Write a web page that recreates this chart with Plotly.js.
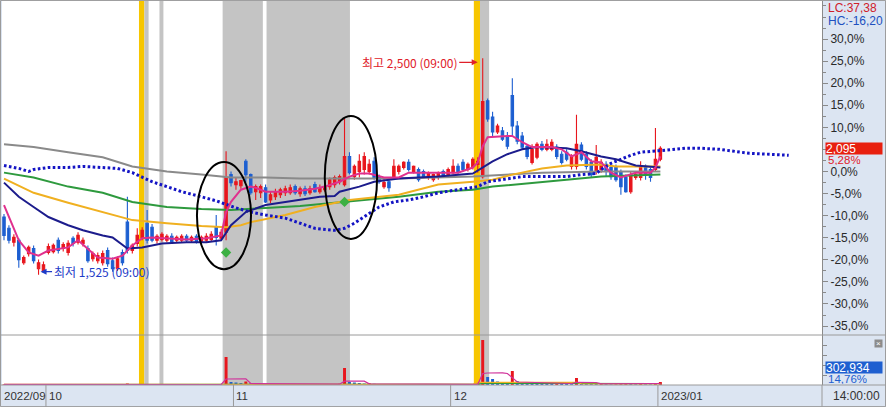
<!DOCTYPE html>
<html><head><meta charset="utf-8">
<script src="https://cdn.plot.ly/plotly-3.0.1.min.js"></script>
<style>html,body{margin:0;padding:0;background:#fff}#chart{width:886px;height:407px}</style>
</head><body><div id="chart"></div>
<script>
// ---------- data ----------
const basePrice = 1990;
const opens = [1785,1734,1671,1680,1579,1620,1643,1552,1543,1625,
1629,1680,1643,1625,1689,1671,1666,1643,1597,1588,
1579,1634,1588,1552,1625,1762,1634,1666,1693,1757,
1739,1680,1684,1680,1698,1680,1680,1698,1680,1698,
1675,1680,1684,1739,1689,1716,1976,1931,1926,2036,
1976,1899,1894,1917,1862,1876,1885,1894,1894,1922,
1890,1912,1894,1931,1899,1908,1922,1931,1944,1931,
2058,1967,1990,1999,1990,2036,1967,1922,1944,1967,
1990,2008,2031,1990,1999,1990,1963,1953,1963,1990,
1976,1985,2013,2031,1999,2013,2022,1967,2309,2236,
2168,2173,2145,2332,2195,2150,2104,2031,2054,2113,
2090,2090,2100,2068,2077,2013,2013,2109,2068,2031,
1990,1999,2022,2008,2008,1990,1963,1899,1963,1963,
2013,1999,1999,2045];
const highs = [1798,1748,1707,1689,1611,1657,1657,1593,1584,1666,
1666,1693,1671,1680,1698,1716,1693,1657,1629,1625,
1634,1648,1602,1607,1639,1876,1666,1734,1739,1817,
1753,1707,1716,1707,1712,1702,1707,1707,1702,1707,
1702,1712,1721,1794,1730,2081,1990,1963,1953,2045,
1981,1931,1931,1931,1899,1912,1917,1926,1931,1931,
1922,1926,1926,1944,1931,1935,1963,1972,1976,2227,
2077,2022,2068,2077,2045,2054,1976,1963,1953,2045,
2022,2036,2045,2017,2008,1999,1990,1981,1990,1999,
2008,2045,2026,2045,2031,2054,2054,2500,2319,2259,
2205,2191,2168,2410,2218,2168,2113,2113,2122,2127,
2136,2136,2113,2081,2090,2068,2246,2122,2081,2045,
2109,2045,2036,2022,2022,1999,1976,1990,1990,2036,
2022,2008,2186,2104];
const lows = [1680,1666,1652,1556,1570,1607,1575,1525,1534,1616,
1620,1620,1629,1611,1652,1661,1652,1579,1584,1575,
1566,1561,1538,1543,1566,1620,1620,1652,1680,1666,
1671,1666,1675,1671,1666,1671,1671,1671,1671,1666,
1666,1671,1675,1657,1680,1680,1922,1908,1912,1940,
1885,1862,1871,1848,1848,1862,1871,1880,1885,1885,
1876,1880,1885,1894,1890,1899,1908,1917,1931,1922,
1976,1953,1963,1976,1976,1953,1935,1912,1899,1953,
1976,1999,1990,1981,1944,1963,1953,1944,1953,1963,
1967,1976,1976,1990,1990,1999,1985,1958,2214,2150,
2159,2127,2090,2150,2113,2090,2045,2022,2045,2081,
2081,2081,2045,2022,2036,1999,1999,2036,1999,1963,
1976,1985,1967,1953,1944,1885,1894,1890,1953,1949,
1953,1944,1990,2036];
const closes = [1702,1680,1693,1593,1602,1648,1588,1579,1570,1652,
1657,1634,1661,1666,1666,1702,1680,1588,1620,1611,
1620,1575,1552,1597,1579,1634,1657,1702,1725,1680,
1680,1698,1707,1698,1675,1693,1698,1680,1693,1675,
1693,1698,1707,1693,1716,1963,1940,1944,1949,1976,
1894,1922,1922,1853,1885,1899,1908,1912,1917,1894,
1912,1890,1912,1899,1917,1922,1953,1963,1967,2058,
1985,2013,2036,2058,2022,1963,1944,1940,1917,2013,
2013,2031,1999,2013,1953,1967,1981,1976,1985,1967,
1999,2013,1990,1999,2022,2045,2036,2305,2227,2168,
2195,2136,2104,2195,2127,2100,2058,2090,2113,2090,
2113,2122,2058,2031,2045,2058,2113,2045,2013,1976,
2054,2031,1990,1967,1953,1922,1899,1976,1976,2008,
1976,1963,2045,2095];
const volume = [60000,40000,50000,70000,40000,50000,60000,90000,80000,
50000,40000,45000,35000,50000,30000,45000,40000,60000,35000,40000,45000,55000,60000,50000,45000,
150000,
60000,50000,40000,70000,45000,30000,25000,30000,20000,25000,30000,20000,25000,20000,30000,25000,35000,90000,60000,
2800000,
300000,
250000,200000,350000,180000,150000,120000,100000,90000,80000,70000,60000,70000,60000,50000,60000,50000,70000,60000,80000,90000,100000,120000,
1700000,
300000,250000,200000,150000,180000,120000,100000,80000,70000,60000,70000,60000,50000,60000,50000,40000,50000,40000,50000,60000,70000,80000,60000,70000,80000,90000,100000,
4500000,
800000,600000,
350000,250000,200000,
1400000,
400000,300000,250000,200000,180000,150000,120000,100000,150000,120000,100000,80000,
700000,
250000,150000,120000,100000,150000,80000,60000,70000,90000,120000,100000,80000,120000,70000,60000,
200000,302934];

// moving averages (candle index -> price)
const ma5Idx = [0,1,3,5,7,9,13,15,17,19,22,24,26,28,30,33,37,41,44,45,46,48,50,51,53,57,60,63,65,68,70,72,74,77,80,82,85,88,92,95,96,97,98,102,103,105,107,111,113,115,117,119,121,123,125,128,131,132,133];
const ma5Val = [1839,1785,1680,1625,1611,1634,1648,1680,1643,1602,1597,1611,1657,1689,1693,1689,1684,1689,1702,1807,1853,1908,1922,1917,1899,1899,1903,1912,1922,1944,1967,1981,1981,1963,1963,1985,1985,1985,1985,2008,2031,2104,2145,2150,2150,2122,2100,2100,2090,2058,2077,2036,2031,1985,1963,1985,1985,2008,2058];
const ma20Idx = [0,3,6,9,13,16,20,22,25,28,32,37,41,44,46,49,53,57,60,64,67,68,72,75,80,88,95,97,99,102,105,108,114,117,121,124,128,133];
const ma20Val = [1940,1876,1830,1785,1748,1725,1702,1693,1643,1648,1666,1671,1671,1680,1748,1807,1839,1853,1862,1876,1880,1899,1922,1944,1958,1967,1981,2008,2036,2068,2090,2100,2095,2081,2058,2045,2017,2008];
const ma60Idx = [0,6,13,20,26,33,40,45,48,50,57,63,70,80,88,95,99,103,109,114,121,124,129,133];
const ma60Val = [1958,1894,1849,1807,1771,1757,1744,1739,1748,1762,1794,1830,1862,1885,1931,1944,1953,1976,2004,2017,2022,2013,2013,2013];
const ma120Idx = [0,6,13,20,26,33,40,46,53,60,67,74,80,88,95,99,109,114,121,133];
const ma120Val = [1985,1963,1922,1894,1853,1830,1821,1817,1826,1835,1849,1862,1876,1899,1908,1922,1944,1953,1967,1976];
const ma240Idx = [0,6,13,20,26,33,40,46,53,60,67,74,80,95,101,109,121,133];
const ma240Val = [2113,2100,2077,2054,2013,1990,1976,1963,1963,1958,1958,1958,1958,1967,1976,1985,1990,1990];
const spanIdx = [0,3,5,6,9,13,16,19,23,26,30,33,36,40,43,47,50,53,57,60,63,67,69,71,74,76,79,82,85,88,92,96,98,102,105,109,114,117,120,121,123,125,127,129,132,134,138,141,145,148,151,155,159];
const spanVal = [2017,2004,1990,1999,2008,2008,2013,2008,2004,1985,1944,1922,1899,1876,1858,1826,1807,1794,1780,1757,1734,1725,1734,1757,1803,1830,1853,1862,1876,1894,1908,1922,1944,1958,1967,1967,1967,1976,1981,1999,2027,2045,2063,2077,2081,2086,2095,2095,2090,2081,2072,2068,2063];
const signalIdx = [45,69];
const signalVal = [1625,1853];
const volMa5Idx = [0,44,45,49,50,68,69,73,74,96,97,98,101,102,104,115,116,120,121,133];
const volMa5Val = [60000,50000,600000,620000,150000,80000,380000,390000,120000,70000,1150000,1200000,1210000,1150000,300000,150000,260000,250000,120000,150000];
const volMa20Idx = [0,95,96,116,117,133];
const volMa20Val = [60000,60000,270000,270000,110000,100000];
const volMa60Idx = [0,96,97,133];
const volMa60Val = [50000,60000,160000,150000];

const pctTicks = [30,25,20,15,10,5,0,-5,-10,-15,-20,-25,-30,-35];
const hiddenPct = 5;   // covered by the current-price box in the original
const monthPos = [-0.2,8.5,46.5,90.5,132.5];
const monthText = ['2022/09','10','11','12','2023/01'];
const lastPrice = 2095, lastPct = '5,28%';
const lastVolume = 302934, lastVolPct = '14,76%';
const hiIdx = 97, hiVal = 2500, loIdx = 7, loVal = 1525;

// ---------- style ----------
const RED = '#e8161d', BLUE = '#1d5fd1';
const AX = 'Liberation Sans, Arial, sans-serif';
const KR = 'Noto Sans CJK KR, sans-serif';
const idx = closes.map((_, i) => i);
const volColors = volume.map((v, i) => (i === 0 || v >= volume[i - 1]) ? RED : BLUE);

const line = (xs, ys, color, width, yaxis, extra) => Object.assign({
  type: 'scatter', mode: 'lines', x: xs, y: ys, yaxis: yaxis || 'y',
  line: {color: color, width: width}, hoverinfo: 'skip'
}, extra || {});

const traces = [
  line(ma240Idx, ma240Val, '#8a8a8a', 2),
  line(ma120Idx, ma120Val, '#2e9a3e', 2),
  line(ma60Idx, ma60Val, '#f0b020', 2),
  line(spanIdx, spanVal, '#1616c8', 3, 'y', {line: {color: '#1414c4', width: 3, dash: '2.6px,2.4px'}}),
  line(ma20Idx, ma20Val, '#1c1c8c', 2),
  {type: 'candlestick', x: idx, open: opens, high: highs, low: lows, close: closes,
   increasing: {line: {color: RED, width: 1.1}, fillcolor: RED},
   decreasing: {line: {color: BLUE, width: 1.1}, fillcolor: BLUE},
   whiskerwidth: 0, hoverinfo: 'skip'},
  line(ma5Idx, ma5Val, '#e0308e', 2),
  {type: 'scatter', mode: 'markers', x: signalIdx, y: signalVal,
   marker: {symbol: 'diamond', size: 8, color: '#3cb043'}, hoverinfo: 'skip'},
  {type: 'bar', x: idx, y: volume, yaxis: 'y2', width: 0.6,
   marker: {color: volColors, line: {width: 0}}, hoverinfo: 'skip'},
  line(volMa60Idx, volMa60Val, '#2e9a3e', 1.2, 'y2'),
  line(volMa20Idx, volMa20Val, '#f0b020', 1.2, 'y2'),
  line(volMa5Idx, volMa5Val, '#d0309a', 1.2, 'y2')
];

// ---------- layout ----------
const MAIN_BOTTOM = 0.1302;
const BAND_H = 22 / 384;
const bands = [
  [27.35, 28.45, '#f7c600'], [28.45, 29.3, '#c4c4c4'], [31.5, 32.3, '#c4c4c4'],
  [44.3, 52.45, '#c4c4c4'], [53.2, 70.1, '#c4c4c4'],
  [95.2, 96.45, '#f7c600'], [96.45, 98.3, '#c4c4c4']
];
const shapes = bands.map(b => ({type: 'rect', xref: 'x', yref: 'paper', x0: b[0], x1: b[1], y0: 0, y1: 1,
  fillcolor: b[2], line: {width: 0}, layer: 'below'}));
shapes.push({type: 'circle', xref: 'x', yref: 'y', x0: 39.1, x1: 50.05, y0: 1550, y1: 2033, line: {color: '#000', width: 2}});
shapes.push({type: 'circle', xref: 'x', yref: 'y', x0: 65.0, x1: 75.6, y0: 1686, y1: 2240, line: {color: '#000', width: 2}});
shapes.push({type: 'line', xref: 'paper', yref: 'paper', x0: -0.003, x1: 1.08, y0: MAIN_BOTTOM, y1: MAIN_BOTTOM, line: {color: '#9a9a9a', width: 1}});
shapes.push({type: 'line', xref: 'paper', yref: 'paper', x0: -0.003, x1: 1.08, y0: 0, y1: 0, line: {color: '#9a9a9a', width: 1}});
shapes.push({type: 'line', xref: 'paper', yref: 'paper', x0: 1, x1: 1, y0: -BAND_H, y1: 0, line: {color: '#9a9a9a', width: 1}});
shapes.push({type: 'rect', xref: 'paper', yref: 'paper', x0: -0.0018, x1: 1.0775, y0: -BAND_H + 0.001, y1: 1.0015, line: {color: '#9a9a9a', width: 1}});
monthPos.slice(1).forEach(p => shapes.push({type: 'line', xref: 'x', yref: 'paper', x0: p, x1: p, y0: -BAND_H, y1: 0, line: {color: '#9a9a9a', width: 1}}));

const ann = [];
monthPos.forEach((p, k) => ann.push({xref: 'x', yref: 'paper', x: p, y: -BAND_H / 2, xanchor: 'left', yanchor: 'middle',
  xshift: k === 0 ? -1 : 1, text: monthText[k], showarrow: false, font: {family: AX, size: 11.5, color: '#333'}}));
ann.push({xref: 'x', yref: 'y', x: hiIdx, y: hiVal, ax: -73, ay: 0, yshift: -4, standoff: 5,
  text: '최고 2,500 (09:00)', showarrow: true, arrowhead: 2, arrowsize: 1, arrowwidth: 1.2, arrowcolor: '#e0202a',
  font: {family: KR, size: 12, color: '#e0202a'}});
ann.push({xref: 'x', yref: 'y', x: loIdx, y: loVal, ax: 63, ay: 0, yshift: 3, standoff: 2,
  text: '최저 1,525 (09:00)', showarrow: true, arrowhead: 2, arrowsize: 1, arrowwidth: 1.2, arrowcolor: '#1e3cc8',
  font: {family: KR, size: 12, color: '#1e3cc8'}});
const RX = (826 - 2) / 820;
ann.push({xref: 'paper', yref: 'paper', x: RX, y: (385 - 8) / 384, xanchor: 'left', yanchor: 'middle', showarrow: false,
  text: 'LC:37,38', font: {family: AX, size: 12, color: '#d0202a'}});
ann.push({xref: 'paper', yref: 'paper', x: RX, y: (385 - 21) / 384, xanchor: 'left', yanchor: 'middle', showarrow: false,
  text: 'HC:-16,20', font: {family: AX, size: 12, color: '#2050c0'}});
ann.push({xref: 'paper', yref: 'y', x: (825 - 2) / 820, y: lastPrice, xanchor: 'left', yanchor: 'middle', showarrow: false,
  text: lastPrice.toLocaleString('en-US'), bgcolor: '#e8200f', width: 56, height: 11, align: 'left', valign: 'middle', borderpad: 0,
  font: {family: AX, size: 12, color: '#ffffff'}});
ann.push({xref: 'paper', yref: 'y', x: RX, y: lastPrice, yshift: -12, xanchor: 'left', yanchor: 'middle', showarrow: false,
  text: lastPct, height: 10, font: {family: AX, size: 11.5, color: '#e0202a'}});
ann.push({xref: 'paper', yref: 'paper', x: (825 - 2) / 820, y: (385 - 367) / 384, xanchor: 'left', yanchor: 'middle', showarrow: false,
  text: lastVolume.toLocaleString('en-US'), bgcolor: '#1e5fd0', width: 56, height: 11, align: 'left', valign: 'middle', borderpad: 0,
  font: {family: AX, size: 12, color: '#ffffff'}});
ann.push({xref: 'paper', yref: 'paper', x: RX, y: (385 - 379) / 384, xanchor: 'left', yanchor: 'middle', showarrow: false,
  text: lastVolPct, height: 10, font: {family: AX, size: 11.5, color: '#1e5fd0'}});
ann.push({xref: 'paper', yref: 'paper', x: (856 - 2) / 820, y: -BAND_H / 2, xanchor: 'center', yanchor: 'middle', showarrow: false,
  text: '14:00:00', font: {family: AX, size: 12, color: '#333'}});
ann.push({xref: 'paper', yref: 'paper', x: (878 - 2) / 820, y: (385 - 343) / 384, xanchor: 'center', yanchor: 'middle', showarrow: false,
  text: '×', bgcolor: '#8c8c8c', width: 7, height: 7, borderpad: 0, font: {family: AX, size: 8, color: '#ffffff'}});

const layout = {
  width: 886, height: 407,
  margin: {l: 2, r: 64, t: 1, b: 22, pad: 0},
  paper_bgcolor: '#dce5f2', plot_bgcolor: '#ffffff',
  showlegend: false, hovermode: false, dragmode: false,
  xaxis: {range: [-0.405, 165.75], anchor: 'y2', showgrid: false, zeroline: false, showticklabels: false,
    ticks: '', showline: false, rangeslider: {visible: false}, fixedrange: true},
  yaxis: {domain: [MAIN_BOTTOM, 1], range: [1253.1, 2758.6], side: 'right', anchor: 'x',
    showgrid: false, zeroline: false, showline: true, linecolor: '#8a8a8a', linewidth: 1,
    tickvals: pctTicks.map(p => basePrice * (1 + p / 100)),
    ticktext: pctTicks.map(p => p === hiddenPct ? '' : p.toFixed(1).replace('.', ',') + '%'),
    ticks: 'outside', ticklen: 5, tickcolor: '#8a8a8a',
    minor: {tick0: basePrice, dtick: basePrice * 0.025, ticks: 'outside', ticklen: 3, tickcolor: '#8a8a8a'},
    tickfont: {family: AX, size: 12, color: '#2a2a2a'}, fixedrange: true},
  yaxis2: {domain: [0, MAIN_BOTTOM], range: [0, 5000000], side: 'right', anchor: 'x',
    showgrid: false, zeroline: false, showline: true, linecolor: '#8a8a8a', showticklabels: false,
    tickvals: [1000000, 2000000, 3000000, 4000000], ticks: 'outside', ticklen: 4, tickcolor: '#8a8a8a', fixedrange: true},
  shapes: shapes, annotations: ann
};

Plotly.newPlot('chart', traces, layout, {staticPlot: true, displayModeBar: false});
</script></body></html>
